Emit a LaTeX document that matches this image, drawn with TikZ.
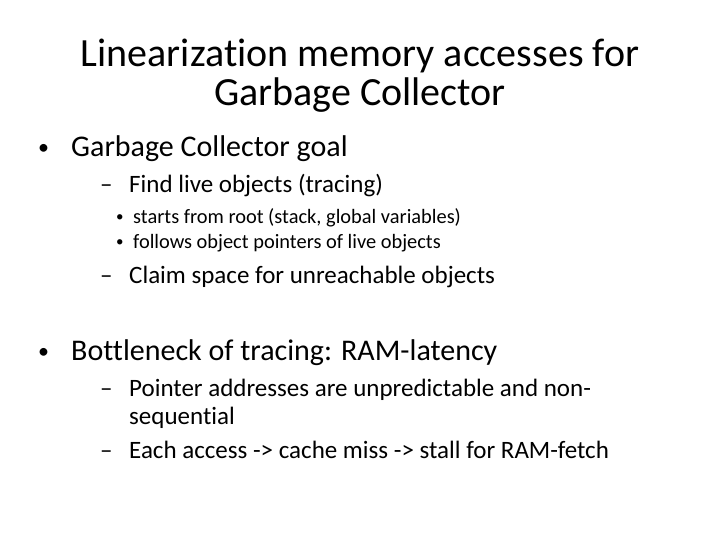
\documentclass[tikz,border=0pt]{standalone}
\usepackage{fontspec}
\setmainfont{Carlito}[Ligatures={NoCommon}]
\begin{document}
\begin{tikzpicture}[x=1pt,y=-1pt,
  t/.style={anchor=base west,inner sep=0pt,text=black}]
\useasboundingbox (0,0) rectangle (720,540);
\node[anchor=base,inner sep=0pt,font=\fontsize{40}{44}\selectfont] (t1) at (360,67) {Linearization memory accesses for};
\node[anchor=base,inner sep=0pt,font=\fontsize{40}{44}\selectfont] (t2) at (360,106) {Garbage Collector};
\tikzset{l1/.style={t,font=\fontsize{30}{34}\selectfont},
 l2/.style={t,font=\fontsize{25}{30}\selectfont},
 l3/.style={t,font=\fontsize{20.4}{24}\selectfont},
 bl/.style={t,font=\fontsize{22}{24}\selectfont},
 bs/.style={t,font=\fontsize{15}{18}\selectfont}}
\node[bl] (b1) at (38,155) {•};
\node[l1] (a1) at (71,157) {Garbage Collector goal};
\node[l2] (d1) at (100,193) {–};
\node[l2] (e1) at (129,193) {Find live objects (tracing)};
\node[bs] (c1) at (116,222) {•};
\node[l3] (f1) at (133,223) {starts from root (stack, global variables)};
\node[bs] (c2) at (116,247) {•};
\node[l3] (f2) at (133,248) {follows object pointers of live objects};
\node[l2] (d2) at (100,283) {–};
\node[l2] (e2) at (129,283) {Claim space for unreachable objects};
\node[bl] (b2) at (38,358) {•};
\node[l1] (a2) at (71,360) {Bottleneck of tracing: RAM-latency};
\node[l2] (d3) at (100,396) {–};
\node[l2] (e3) at (129,396) {Pointer addresses are unpredictable and non-};
\node[l2] (e4) at (129,424) {sequential};
\node[l2] (d4) at (100,458) {–};
\node[l2] (e5) at (129,458) {Each access -> cache miss -> stall for RAM-fetch};
\end{tikzpicture}
\end{document}
